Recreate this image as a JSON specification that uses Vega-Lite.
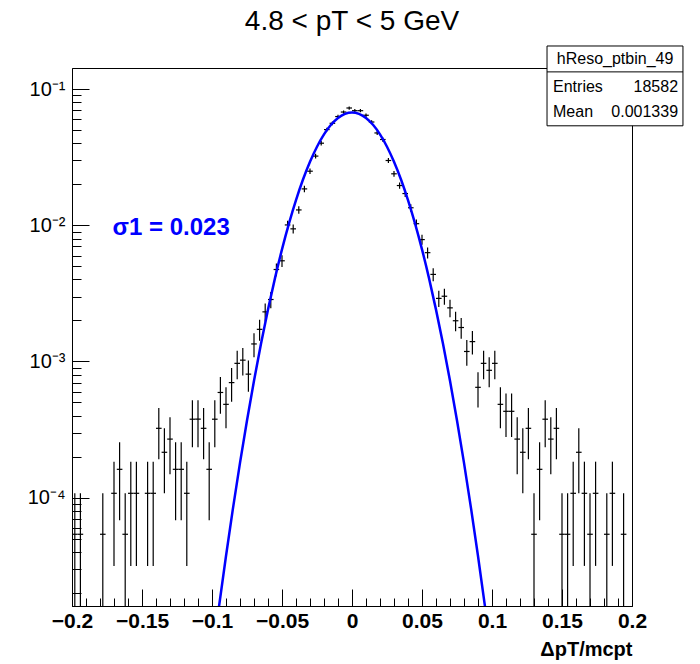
{
  "$schema": "https://vega.github.io/schema/vega-lite/v6.json",
  "width": 560,
  "height": 538,
  "autosize": "none",
  "padding": {"left": 72, "top": 68, "right": 68, "bottom": 58},
  "background": "white",
  "config": {
    "view": {"stroke": "black", "strokeWidth": 1},
    "font": "Liberation Sans"
  },
  "title": {
    "text": "4.8 < pT < 5 GeV",
    "font": "Liberation Sans",
    "fontSize": 28,
    "fontWeight": "normal",
    "color": "black",
    "anchor": "middle",
    "frame": "group",
    "baseline": "alphabetic",
    "offset": -13
  },
  "datasets": {
    "hist": [
      {"x": -0.198, "y": 5.382e-5, "lo": 1e-6, "hi": 1.076e-4},
      {"x": -0.194, "y": 5.382e-5, "lo": 1e-6, "hi": 1.076e-4},
      {"x": -0.178, "y": 5.382e-5, "lo": 1e-6, "hi": 1.076e-4},
      {"x": -0.170, "y": 1.076e-4, "lo": 3.152e-5, "hi": 1.837e-4},
      {"x": -0.166, "y": 1.614e-4, "lo": 6.824e-5, "hi": 2.547e-4},
      {"x": -0.162, "y": 5.382e-5, "lo": 1e-6, "hi": 1.076e-4},
      {"x": -0.158, "y": 1.076e-4, "lo": 3.152e-5, "hi": 1.837e-4},
      {"x": -0.154, "y": 1.076e-4, "lo": 3.152e-5, "hi": 1.837e-4},
      {"x": -0.146, "y": 1.076e-4, "lo": 3.152e-5, "hi": 1.837e-4},
      {"x": -0.142, "y": 1.076e-4, "lo": 3.152e-5, "hi": 1.837e-4},
      {"x": -0.138, "y": 3.229e-4, "lo": 1.911e-4, "hi": 4.547e-4},
      {"x": -0.134, "y": 2.153e-4, "lo": 1.076e-4, "hi": 3.229e-4},
      {"x": -0.130, "y": 2.691e-4, "lo": 1.487e-4, "hi": 3.894e-4},
      {"x": -0.126, "y": 1.614e-4, "lo": 6.824e-5, "hi": 2.547e-4},
      {"x": -0.122, "y": 1.614e-4, "lo": 6.824e-5, "hi": 2.547e-4},
      {"x": -0.118, "y": 1.076e-4, "lo": 3.152e-5, "hi": 1.837e-4},
      {"x": -0.114, "y": 3.767e-4, "lo": 2.343e-4, "hi": 5.191e-4},
      {"x": -0.110, "y": 3.767e-4, "lo": 2.343e-4, "hi": 5.191e-4},
      {"x": -0.106, "y": 3.229e-4, "lo": 1.911e-4, "hi": 4.547e-4},
      {"x": -0.102, "y": 1.614e-4, "lo": 6.824e-5, "hi": 2.547e-4},
      {"x": -0.098, "y": 3.767e-4, "lo": 2.343e-4, "hi": 5.191e-4},
      {"x": -0.094, "y": 5.920e-4, "lo": 4.135e-4, "hi": 7.705e-4},
      {"x": -0.090, "y": 4.843e-4, "lo": 3.229e-4, "hi": 6.458e-4},
      {"x": -0.086, "y": 6.996e-4, "lo": 5.056e-4, "hi": 8.936e-4},
      {"x": -0.082, "y": 9.687e-4, "lo": 7.404e-4, "hi": 1.197e-3},
      {"x": -0.078, "y": 1.0225e-3, "lo": 7.879e-4, "hi": 1.257e-3},
      {"x": -0.074, "y": 8.072e-4, "lo": 5.988e-4, "hi": 1.016e-3},
      {"x": -0.070, "y": 1.345e-3, "lo": 1.076e-3, "hi": 1.615e-3},
      {"x": -0.066, "y": 1.722e-3, "lo": 1.418e-3, "hi": 2.027e-3},
      {"x": -0.062, "y": 2.314e-3, "lo": 1.961e-3, "hi": 2.667e-3},
      {"x": -0.058, "y": 2.852e-3, "lo": 2.460e-3, "hi": 3.244e-3},
      {"x": -0.054, "y": 4.736e-3, "lo": 4.231e-3, "hi": 5.241e-3},
      {"x": -0.050, "y": 5.489e-3, "lo": 4.946e-3, "hi": 6.033e-3},
      {"x": -0.046, "y": 1.0064e-2, "lo": 9.328e-3, "hi": 1.0799e-2},
      {"x": -0.042, "y": 9.418e-3, "lo": 8.706e-3, "hi": 1.0130e-2},
      {"x": -0.038, "y": 1.2970e-2, "lo": 1.2134e-2, "hi": 1.3805e-2},
      {"x": -0.034, "y": 1.8513e-2, "lo": 1.7514e-2, "hi": 1.9511e-2},
      {"x": -0.030, "y": 2.4970e-2, "lo": 2.3811e-2, "hi": 2.6130e-2},
      {"x": -0.026, "y": 3.2236e-2, "lo": 3.0918e-2, "hi": 3.3553e-2},
      {"x": -0.022, "y": 4.0093e-2, "lo": 3.8624e-2, "hi": 4.1562e-2},
      {"x": -0.018, "y": 5.0479e-2, "lo": 4.8831e-2, "hi": 5.2127e-2},
      {"x": -0.014, "y": 5.6130e-2, "lo": 5.4392e-2, "hi": 5.7868e-2},
      {"x": -0.010, "y": 6.2910e-2, "lo": 6.1070e-2, "hi": 6.4750e-2},
      {"x": -0.006, "y": 6.7915e-2, "lo": 6.6003e-2, "hi": 6.9827e-2},
      {"x": -0.002, "y": 7.2705e-2, "lo": 7.0727e-2, "hi": 7.4683e-2},
      {"x": 0.002, "y": 6.9476e-2, "lo": 6.7542e-2, "hi": 7.1409e-2},
      {"x": 0.006, "y": 6.9476e-2, "lo": 6.7542e-2, "hi": 7.1409e-2},
      {"x": 0.010, "y": 6.4310e-2, "lo": 6.2449e-2, "hi": 6.6170e-2},
      {"x": 0.014, "y": 5.7367e-2, "lo": 5.5610e-2, "hi": 5.9124e-2},
      {"x": 0.018, "y": 4.7681e-2, "lo": 4.6079e-2, "hi": 4.9283e-2},
      {"x": 0.022, "y": 4.2676e-2, "lo": 4.1160e-2, "hi": 4.4191e-2},
      {"x": 0.026, "y": 2.9921e-2, "lo": 2.8652e-2, "hi": 3.1190e-2},
      {"x": 0.030, "y": 2.3894e-2, "lo": 2.2760e-2, "hi": 2.5028e-2},
      {"x": 0.034, "y": 1.9589e-2, "lo": 1.8562e-2, "hi": 2.0616e-2},
      {"x": 0.038, "y": 1.7113e-2, "lo": 1.6154e-2, "hi": 1.8073e-2},
      {"x": 0.042, "y": 1.3454e-2, "lo": 1.2603e-2, "hi": 1.4305e-2},
      {"x": 0.046, "y": 1.0279e-2, "lo": 9.535e-3, "hi": 1.1023e-2},
      {"x": 0.050, "y": 7.857e-3, "lo": 7.207e-3, "hi": 8.507e-3},
      {"x": 0.054, "y": 6.297e-3, "lo": 5.714e-3, "hi": 6.879e-3},
      {"x": 0.058, "y": 4.359e-3, "lo": 3.875e-3, "hi": 4.843e-3},
      {"x": 0.062, "y": 2.906e-3, "lo": 2.511e-3, "hi": 3.302e-3},
      {"x": 0.066, "y": 3.014e-3, "lo": 2.611e-3, "hi": 3.416e-3},
      {"x": 0.070, "y": 2.476e-3, "lo": 2.111e-3, "hi": 2.841e-3},
      {"x": 0.074, "y": 1.991e-3, "lo": 1.664e-3, "hi": 2.319e-3},
      {"x": 0.078, "y": 1.776e-3, "lo": 1.467e-3, "hi": 2.085e-3},
      {"x": 0.082, "y": 1.184e-3, "lo": 9.316e-4, "hi": 1.436e-3},
      {"x": 0.086, "y": 1.399e-3, "lo": 1.125e-3, "hi": 1.674e-3},
      {"x": 0.090, "y": 6.458e-4, "lo": 4.594e-4, "hi": 8.322e-4},
      {"x": 0.094, "y": 9.687e-4, "lo": 7.404e-4, "hi": 1.197e-3},
      {"x": 0.098, "y": 8.611e-4, "lo": 6.458e-4, "hi": 1.076e-3},
      {"x": 0.102, "y": 9.687e-4, "lo": 7.404e-4, "hi": 1.197e-3},
      {"x": 0.106, "y": 4.843e-4, "lo": 3.229e-4, "hi": 6.458e-4},
      {"x": 0.110, "y": 4.305e-4, "lo": 2.783e-4, "hi": 5.827e-4},
      {"x": 0.114, "y": 4.305e-4, "lo": 2.783e-4, "hi": 5.827e-4},
      {"x": 0.118, "y": 2.691e-4, "lo": 1.487e-4, "hi": 3.894e-4},
      {"x": 0.122, "y": 2.153e-4, "lo": 1.076e-4, "hi": 3.229e-4},
      {"x": 0.126, "y": 3.229e-4, "lo": 1.911e-4, "hi": 4.547e-4},
      {"x": 0.130, "y": 5.382e-5, "lo": 1e-6, "hi": 1.076e-4},
      {"x": 0.134, "y": 1.614e-4, "lo": 6.824e-5, "hi": 2.547e-4},
      {"x": 0.138, "y": 3.767e-4, "lo": 2.343e-4, "hi": 5.191e-4},
      {"x": 0.142, "y": 2.691e-4, "lo": 1.487e-4, "hi": 3.894e-4},
      {"x": 0.146, "y": 3.229e-4, "lo": 1.911e-4, "hi": 4.547e-4},
      {"x": 0.150, "y": 5.382e-5, "lo": 1e-6, "hi": 1.076e-4},
      {"x": 0.154, "y": 5.382e-5, "lo": 1e-6, "hi": 1.076e-4},
      {"x": 0.158, "y": 1.076e-4, "lo": 3.152e-5, "hi": 1.837e-4},
      {"x": 0.162, "y": 2.153e-4, "lo": 1.076e-4, "hi": 3.229e-4},
      {"x": 0.166, "y": 1.076e-4, "lo": 3.152e-5, "hi": 1.837e-4},
      {"x": 0.170, "y": 5.382e-5, "lo": 1e-6, "hi": 1.076e-4},
      {"x": 0.174, "y": 1.076e-4, "lo": 3.152e-5, "hi": 1.837e-4},
      {"x": 0.182, "y": 5.382e-5, "lo": 1e-6, "hi": 1.076e-4},
      {"x": 0.186, "y": 1.076e-4, "lo": 3.152e-5, "hi": 1.837e-4},
      {"x": 0.194, "y": 5.382e-5, "lo": 1e-6, "hi": 1.076e-4}
    ],
    "fit": [
      {"x": -0.100, "f": 6.42e-6},
      {"x": -0.095, "f": 1.584e-5},
      {"x": -0.090, "f": 3.728e-5},
      {"x": -0.085, "f": 8.38e-5},
      {"x": -0.080, "f": 1.799e-4},
      {"x": -0.075, "f": 3.687e-4},
      {"x": -0.070, "f": 7.214e-4},
      {"x": -0.065, "f": 1.348e-3},
      {"x": -0.060, "f": 2.404e-3},
      {"x": -0.055, "f": 4.095e-3},
      {"x": -0.050, "f": 6.659e-3},
      {"x": -0.045, "f": 1.0336e-2},
      {"x": -0.040, "f": 1.532e-2},
      {"x": -0.035, "f": 2.168e-2},
      {"x": -0.030, "f": 2.929e-2},
      {"x": -0.025, "f": 3.779e-2},
      {"x": -0.020, "f": 4.654e-2},
      {"x": -0.015, "f": 5.472e-2},
      {"x": -0.010, "f": 6.144e-2},
      {"x": -0.005, "f": 6.586e-2},
      {"x": 0.000, "f": 6.74e-2},
      {"x": 0.005, "f": 6.586e-2},
      {"x": 0.010, "f": 6.144e-2},
      {"x": 0.015, "f": 5.472e-2},
      {"x": 0.020, "f": 4.654e-2},
      {"x": 0.025, "f": 3.779e-2},
      {"x": 0.030, "f": 2.929e-2},
      {"x": 0.035, "f": 2.168e-2},
      {"x": 0.040, "f": 1.532e-2},
      {"x": 0.045, "f": 1.0336e-2},
      {"x": 0.050, "f": 6.659e-3},
      {"x": 0.055, "f": 4.095e-3},
      {"x": 0.060, "f": 2.404e-3},
      {"x": 0.065, "f": 1.348e-3},
      {"x": 0.070, "f": 7.214e-4},
      {"x": 0.075, "f": 3.687e-4},
      {"x": 0.080, "f": 1.799e-4},
      {"x": 0.085, "f": 8.38e-5},
      {"x": 0.090, "f": 3.728e-5},
      {"x": 0.095, "f": 1.584e-5},
      {"x": 0.100, "f": 6.42e-6}
    ]
  },
  "resolve": {"axis": {"x": "independent", "y": "independent"}},
  "layer": [
    {
      "data": {"name": "hist"},
      "mark": {"type": "rule", "color": "black", "strokeWidth": 1.2, "clip": true},
      "encoding": {
        "x": {
          "field": "x", "type": "quantitative",
          "scale": {"domain": [-0.2, 0.2], "nice": false, "zero": false},
          "axis": {
            "orient": "bottom",
            "values": [-0.2, -0.15, -0.1, -0.05, 0, 0.05, 0.1, 0.15, 0.2],
            "format": ".2~f",
            "grid": false,
            "domainColor": "black",
            "tickColor": "black",
            "tickSize": -17,
            "labelFont": "Liberation Sans",
            "labelFontSize": 21,
            "labelFontWeight": "bold",
            "labelColor": "black",
            "labelPadding": 21,
            "labelFlush": false,
            "labelOverlap": false,
            "title": "ΔpT/mcpt",
            "titleFont": "Liberation Sans",
            "titleFontSize": 20,
            "titleFontWeight": "bold",
            "titleColor": "black",
            "titleAnchor": "end",
            "titleAlign": "right",
            "titleBaseline": "alphabetic",
            "titleY": 49
          }
        },
        "y": {
          "field": "lo", "type": "quantitative",
          "scale": {"type": "log", "domain": [1.6e-5, 0.143], "nice": false},
          "axis": {
            "orient": "left",
            "values": [0.0001, 0.001, 0.01, 0.1],
            "labelExpr": "datum.value > 0.05 ? '10⁻¹' : datum.value > 0.005 ? '10⁻²' : datum.value > 0.0005 ? '10⁻³' : '10⁻⁴'",
            "grid": false,
            "domainColor": "black",
            "tickColor": "black",
            "tickSize": -17,
            "labelFont": "Liberation Sans",
            "labelFontSize": 20,
            "labelColor": "black",
            "labelPadding": 24,
            "labelFlush": false,
            "labelOverlap": false,
            "title": null
          }
        },
        "y2": {"field": "hi"}
      }
    },
    {
      "data": {"name": "hist"},
      "mark": {"type": "tick", "orient": "horizontal", "size": 5.6, "thickness": 1.2, "color": "black", "opacity": 1, "clip": true},
      "encoding": {
        "x": {"field": "x", "type": "quantitative", "scale": {"domain": [-0.2, 0.2], "nice": false, "zero": false}, "axis": null},
        "y": {"field": "y", "type": "quantitative", "scale": {"type": "log", "domain": [1.6e-5, 0.143], "nice": false}, "axis": null}
      }
    },
    {
      "data": {"name": "fit"},
      "mark": {"type": "line", "color": "#0000ff", "strokeWidth": 2.5, "interpolate": "monotone", "clip": true},
      "encoding": {
        "x": {
          "field": "x", "type": "quantitative",
          "scale": {"domain": [-0.2, 0.2], "nice": false, "zero": false},
          "axis": {
            "orient": "bottom",
            "values": [-0.19, -0.18, -0.17, -0.16, -0.14, -0.13, -0.12, -0.11, -0.09, -0.08, -0.07, -0.06, -0.04, -0.03, -0.02, -0.01, 0.01, 0.02, 0.03, 0.04, 0.06, 0.07, 0.08, 0.09, 0.11, 0.12, 0.13, 0.14, 0.16, 0.17, 0.18, 0.19],
            "labels": false, "domain": false, "grid": false,
            "tickColor": "black", "tickSize": -8, "title": null
          }
        },
        "y": {
          "field": "f", "type": "quantitative",
          "scale": {"type": "log", "domain": [1.6e-5, 0.143], "nice": false},
          "axis": {
            "orient": "left",
            "values": [2e-5, 3e-5, 4e-5, 5e-5, 6e-5, 7e-5, 8e-5, 9e-5, 2e-4, 3e-4, 4e-4, 5e-4, 6e-4, 7e-4, 8e-4, 9e-4, 2e-3, 3e-3, 4e-3, 5e-3, 6e-3, 7e-3, 8e-3, 9e-3, 0.02, 0.03, 0.04, 0.05, 0.06, 0.07, 0.08, 0.09],
            "labels": false, "domain": false, "grid": false,
            "tickColor": "black", "tickSize": -9, "title": null
          }
        }
      }
    },
    {
      "data": {"values": [{}]},
      "mark": {"type": "text", "text": "σ1 = 0.023", "color": "#0000ff", "font": "Liberation Sans", "fontSize": 24, "fontWeight": "bold", "align": "left", "baseline": "middle"},
      "encoding": {
        "x": {"datum": -0.171, "type": "quantitative", "axis": null},
        "y": {"datum": 0.0095, "type": "quantitative", "axis": null}
      }
    },
    {
      "data": {"values": [{}]},
      "mark": {"type": "rect", "fill": "white", "stroke": "black", "strokeWidth": 1},
      "encoding": {
        "x": {"datum": 0.1393, "type": "quantitative", "axis": null},
        "x2": {"datum": 0.2364},
        "y": {"datum": 0.2075, "type": "quantitative", "axis": null},
        "y2": {"datum": 0.0538}
      }
    },
    {
      "data": {"values": [{}]},
      "mark": {"type": "rule", "color": "black", "strokeWidth": 1},
      "encoding": {
        "x": {"datum": 0.1393, "type": "quantitative", "axis": null},
        "x2": {"datum": 0.2364},
        "y": {"datum": 0.1339, "type": "quantitative", "axis": null}
      }
    },
    {
      "data": {"values": [{}]},
      "mark": {"type": "text", "text": "hReso_ptbin_49", "font": "Liberation Sans", "fontSize": 16, "color": "black", "align": "center", "baseline": "middle"},
      "encoding": {
        "x": {"datum": 0.1879, "type": "quantitative", "axis": null},
        "y": {"datum": 0.1667, "type": "quantitative", "axis": null}
      }
    },
    {
      "data": {"values": [{}]},
      "mark": {"type": "text", "text": "Entries", "font": "Liberation Sans", "fontSize": 16, "color": "black", "align": "left", "baseline": "middle"},
      "encoding": {
        "x": {"datum": 0.1436, "type": "quantitative", "axis": null},
        "y": {"datum": 0.1039, "type": "quantitative", "axis": null}
      }
    },
    {
      "data": {"values": [{}]},
      "mark": {"type": "text", "text": "18582", "font": "Liberation Sans", "fontSize": 16, "color": "black", "align": "right", "baseline": "middle"},
      "encoding": {
        "x": {"datum": 0.2329, "type": "quantitative", "axis": null},
        "y": {"datum": 0.1039, "type": "quantitative", "axis": null}
      }
    },
    {
      "data": {"values": [{}]},
      "mark": {"type": "text", "text": "Mean", "font": "Liberation Sans", "fontSize": 16, "color": "black", "align": "left", "baseline": "middle"},
      "encoding": {
        "x": {"datum": 0.1436, "type": "quantitative", "axis": null},
        "y": {"datum": 0.0682, "type": "quantitative", "axis": null}
      }
    },
    {
      "data": {"values": [{}]},
      "mark": {"type": "text", "text": "0.001339", "font": "Liberation Sans", "fontSize": 16, "color": "black", "align": "right", "baseline": "middle"},
      "encoding": {
        "x": {"datum": 0.2329, "type": "quantitative", "axis": null},
        "y": {"datum": 0.0682, "type": "quantitative", "axis": null}
      }
    }
  ]
}
